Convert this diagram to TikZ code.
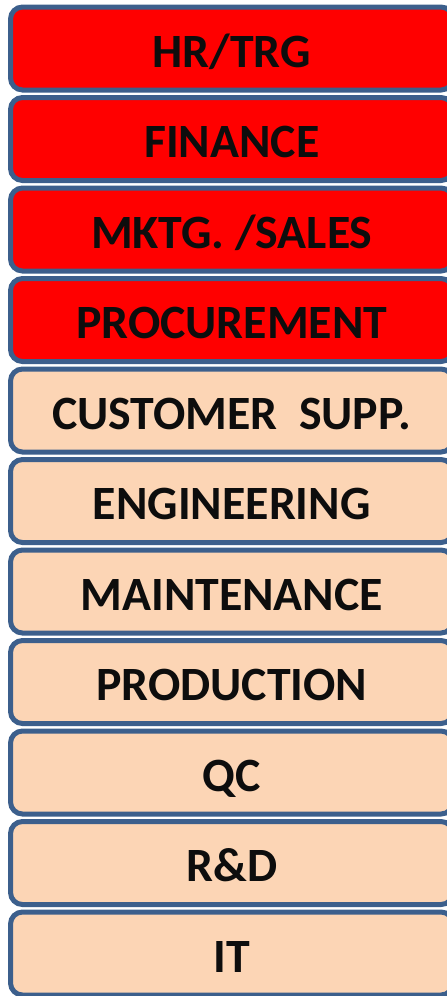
\documentclass[tikz,border=0pt]{standalone}
\usepackage{fontspec}
\setmainfont{Carlito}
\definecolor{edge}{HTML}{3C5F8C}
\definecolor{hot}{HTML}{FF0000}
\definecolor{peach}{HTML}{FCD5B5}
\definecolor{ink}{HTML}{0D0D0D}
\tikzset{
  dept/.style={draw=edge, line width=5pt, rounded corners=12pt, minimum width=442.5pt, minimum height=83pt, inner sep=0pt},
  hotbox/.style={dept, fill=hot},
  coolbox/.style={dept, fill=peach},
  lbl/.style={anchor=base, text=ink, font=\fontsize{47.8}{48}\selectfont\bfseries, inner sep=0pt}
}
\begin{document}
\begin{tikzpicture}[x=1pt,y=-1pt]
\useasboundingbox (0,0) rectangle (447,996);
\foreach \i/\t/\s in {0/HR\slash TRG/hotbox,1/FINANCE/hotbox,2/MKTG. \slash SALES/hotbox,3/PROCUREMENT/hotbox,4/CUSTOMER\ \ SUPP./coolbox,5/ENGINEERING/coolbox,6/MAINTENANCE/coolbox,7/PRODUCTION/coolbox,8/QC/coolbox,9/R\&D/coolbox,10/IT/coolbox}{
  \node[\s] (b\i) at (231.75, 48.5+\i*90.5) {};
  \node[lbl] (t\i) at (231.75, 48.5+\i*90.5+18.8) {\t};
}
\end{tikzpicture}
\end{document}
